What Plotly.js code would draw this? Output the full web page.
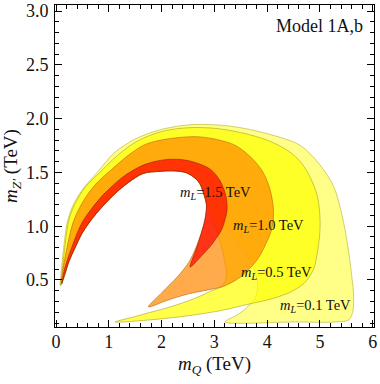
<!DOCTYPE html>
<html>
<head>
<meta charset="utf-8">
<script src="https://cdn.plot.ly/plotly-3.0.1.min.js"></script>
<style>
  html, body { margin: 0; padding: 0; background: #fff; }
  #graph { width: 380px; height: 384px; }
</style>
</head>
<body>
<div id="graph"></div>
<script>
// region boundaries (mQ in TeV, mZ' in TeV)
// shared inner edge of the white hole (top and left arm), ending at the left tip
const holeX = [2.8, 2.72, 2.6, 2.45, 2.2, 1.97, 1.65, 1.25, 0.95, 0.7, 0.5, 0.36, 0.25, 0.17, 0.11];
const holeY = [1.3, 1.4, 1.46, 1.5, 1.515, 1.51, 1.49, 1.36, 1.22, 1.08, 0.94, 0.8, 0.68, 0.56, 0.47];

// mL = 0.1 TeV
const l01OuterX = [0.08, 0.1, 0.14, 0.21, 0.3, 0.5, 0.78, 1.1, 1.5, 2.0, 2.6, 3.3, 4.0, 4.63, 5.0, 5.26, 5.42, 5.52, 5.6, 5.64, 5.62, 5.55, 5.3, 4.5, 3.2];
const l01OuterY = [0.45, 0.58, 0.78, 1.03, 1.17, 1.34, 1.5, 1.68, 1.81, 1.9, 1.945, 1.93, 1.86, 1.75, 1.57, 1.37, 1.1, 0.84, 0.55, 0.34, 0.2, 0.13, 0.11, 0.11, 0.11];
const l01InnerX = [3.45, 3.65, 3.78, 3.82, 3.8, 3.74, 3.62, 3.49, 3.3, 3.17, 3.0, 2.86];
const l01InnerY = [0.18, 0.26, 0.34, 0.43, 0.52, 0.62, 0.72, 0.81, 0.94, 1.03, 1.12, 1.21];

// mL = 0.5 TeV
const l05OuterX = [0.09, 0.12, 0.16, 0.23, 0.33, 0.55, 0.83, 1.1, 1.5, 2.0, 2.5, 3.0, 3.5, 4.0, 4.4, 4.63, 4.82, 4.95, 5.0, 5.0, 4.96, 4.88, 4.7, 4.45, 4.12, 3.6, 3.17, 2.54, 1.8, 1.12];
const l05OuterY = [0.45, 0.6, 0.78, 1.03, 1.18, 1.36, 1.5, 1.63, 1.78, 1.88, 1.915, 1.91, 1.87, 1.8, 1.7, 1.6, 1.45, 1.28, 1.1, 0.95, 0.78, 0.6, 0.47, 0.39, 0.33, 0.27, 0.22, 0.17, 0.13, 0.11];
const l05InnerX = [1.5, 1.75, 2.1, 2.5, 2.73, 2.95, 3.1, 3.2, 3.23, 3.2, 3.14, 3.05, 2.95, 2.85];
const l05InnerY = [0.16, 0.195, 0.24, 0.305, 0.35, 0.4, 0.43, 0.48, 0.56, 0.66, 0.8, 0.95, 1.07, 1.2];

// mL = 1.0 TeV
const l10OuterX = [0.1, 0.13, 0.2, 0.32, 0.5, 0.75, 1.06, 1.4, 1.69, 2.1, 2.73, 3.36, 3.65, 3.9, 4.05, 4.12, 4.09, 3.97, 3.8, 3.5, 3.17, 2.9, 2.5, 2.1, 1.75];
const l10OuterY = [0.46, 0.6, 0.78, 1.03, 1.22, 1.39, 1.53, 1.67, 1.76, 1.81, 1.83, 1.76, 1.66, 1.52, 1.35, 1.15, 0.98, 0.83, 0.68, 0.53, 0.44, 0.41, 0.37, 0.31, 0.25];
const l10InnerX = [2.0, 2.3, 2.51, 2.65, 2.76, 2.83, 2.85];
const l10InnerY = [0.38, 0.53, 0.66, 0.8, 0.95, 1.08, 1.2];

// mL = 1.5 TeV
const l15OuterX = [0.11, 0.16, 0.28, 0.49, 0.7, 0.93, 1.3, 1.69, 2.1, 2.5, 2.92, 3.11, 3.22, 3.24, 3.2, 3.14, 2.95, 2.75, 2.54];
const l15OuterY = [0.47, 0.6, 0.78, 1.03, 1.18, 1.31, 1.47, 1.575, 1.62, 1.61, 1.53, 1.42, 1.28, 1.15, 1.06, 0.97, 0.83, 0.72, 0.62];
const l15InnerX = [2.65, 2.75, 2.82, 2.85];
const l15InnerY = [0.78, 0.93, 1.06, 1.2];

const labelText = ['<i>m</i><sub><i>L</i></sub>=1.5 TeV', '<i>m</i><sub><i>L</i></sub>=1.0 TeV',
                   '<i>m</i><sub><i>L</i></sub>=0.5 TeV', '<i>m</i><sub><i>L</i></sub>=0.1 TeV'];
const labelX = [3.03, 4.02, 4.17, 4.92];
const labelY = [1.31, 1.0, 0.565, 0.255];

const xTicks = [0, 1, 2, 3, 4, 5, 6];
const yTicks = [0.5, 1.0, 1.5, 2.0, 2.5, 3.0];

const serif = 'Liberation Serif, Times New Roman, serif';

function region(ox, oy, ix, iy, fill, edge) {
    var x = ox.concat(ix, holeX, [ox[0]]),
        y = oy.concat(iy, holeY, [oy[0]]);
    return {
        type: 'scatter',
        mode: 'lines',
        x: x,
        y: y,
        fill: 'toself',
        fillcolor: fill,
        line: { color: edge, width: 0.8, shape: 'spline', smoothing: 0.9 },
        hoverinfo: 'skip',
        showlegend: false
    };
}

const traces = [
    region(l01OuterX, l01OuterY, l01InnerX, l01InnerY, 'rgba(255,255,85,0.7)', 'rgba(180,175,40,0.75)'),
    region(l05OuterX, l05OuterY, l05InnerX, l05InnerY, 'rgba(255,255,0,0.7)', 'rgba(170,160,30,0.75)'),
    region(l10OuterX, l10OuterY, l10InnerX, l10InnerY, 'rgba(255,135,0,0.7)', 'rgba(185,100,10,0.75)'),
    region(l15OuterX, l15OuterY, l15InnerX, l15InnerY, 'rgba(255,0,0,0.7)', 'rgba(150,30,10,0.75)')
];

const annotations = labelText.map((t, i) => ({
    x: labelX[i], y: labelY[i], xref: 'x', yref: 'y',
    text: t, showarrow: false,
    font: { family: serif, size: 14.5, color: '#111' }
}));
annotations.push({
    x: 5.86, y: 2.86, xref: 'x', yref: 'y', xanchor: 'right',
    text: 'Model 1A,b', showarrow: false,
    font: { family: serif, size: 18, color: '#111' }
});

const axisCommon = {
    showgrid: false,
    zeroline: false,
    showline: true,
    linecolor: '#000',
    linewidth: 1,
    mirror: 'allticks',
    ticks: 'inside',
    ticklen: 7,
    tickwidth: 1,
    tickcolor: '#000',
    tickfont: { family: serif, size: 18, color: '#111' }
};

const layout = {
    width: 380,
    height: 384,
    margin: { l: 55, r: 6, t: 5, b: 57 },
    paper_bgcolor: '#fff',
    plot_bgcolor: '#fff',
    xaxis: Object.assign({}, axisCommon, {
        range: [-0.02, 6.025],
        tickvals: xTicks,
        ticktext: xTicks.map(v => String(v)),
        minor: { dtick: 0.2, tick0: 0, ticks: 'inside', ticklen: 4, tickwidth: 1, tickcolor: '#000' },
        ticklabelstandoff: -2,
        title: { text: '<i>m</i><sub><i>Q</i></sub> (TeV)', font: { family: serif, size: 19, color: '#111' }, standoff: 6 }
    }),
    yaxis: Object.assign({}, axisCommon, {
        range: [0.063, 3.056],
        tickvals: yTicks,
        ticktext: yTicks.map(v => v.toFixed(1)),
        minor: { dtick: 0.1, tick0: 0, ticks: 'inside', ticklen: 4, tickwidth: 1, tickcolor: '#000' },
        ticklabelstandoff: 2,
        title: { text: "<i>m</i><sub><i>Z'</i></sub> (TeV)", font: { family: serif, size: 19, color: '#111' }, standoff: 3 }
    }),
    annotations: annotations
};

Plotly.newPlot('graph', traces, layout, { displayModeBar: false });
</script>
</body>
</html>
